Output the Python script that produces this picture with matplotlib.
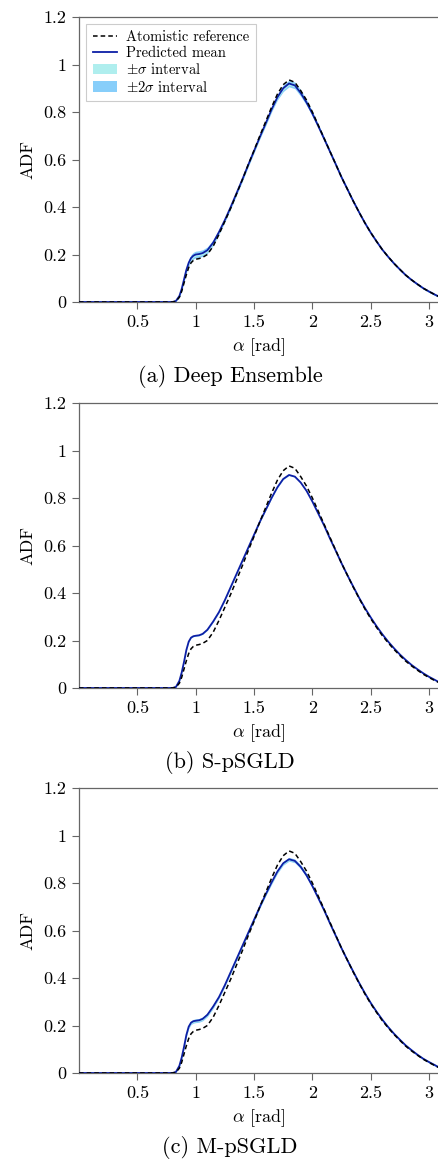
import numpy as np
import matplotlib
matplotlib.use("Agg")
import matplotlib.pyplot as plt

plt.rcParams['font.family'] = 'serif'
plt.rcParams['font.serif'] = ['cmr10']
plt.rcParams['mathtext.fontset'] = 'cm'
plt.rcParams['axes.unicode_minus'] = False
plt.rcParams['axes.formatter.use_mathtext'] = True

# angle grid [rad]
alpha = [0.00, 0.80, 0.83, 0.86, 0.88, 0.90, 0.92, 0.94, 0.96, 0.98,
         1.00, 1.03, 1.06, 1.10, 1.15, 1.20, 1.25, 1.30, 1.35, 1.40,
         1.45, 1.50, 1.55, 1.60, 1.65, 1.70, 1.75, 1.80, 1.85, 1.90,
         1.95, 2.00, 2.05, 2.10, 2.15, 2.20, 2.25, 2.30, 2.35, 2.40,
         2.45, 2.50, 2.55, 2.60, 2.65, 2.70, 2.75, 2.80, 2.85, 2.90,
         2.95, 3.00, 3.05, 3.08]

# atomistic reference ADF
reference = [0, 0, 0.003, 0.02, 0.045, 0.08, 0.115, 0.145, 0.165, 0.175,
             0.18, 0.183, 0.188, 0.20, 0.235, 0.285, 0.34, 0.395, 0.455, 0.515,
             0.578, 0.638, 0.70, 0.76, 0.82, 0.875, 0.915, 0.935, 0.925, 0.89,
             0.85, 0.80, 0.745, 0.69, 0.635, 0.58, 0.525, 0.475, 0.425, 0.378,
             0.333, 0.292, 0.255, 0.22, 0.19, 0.162, 0.137, 0.113, 0.093, 0.075,
             0.058, 0.044, 0.031, 0.024]

# (a) Deep Ensemble
de_mean = [0, 0, 0.004, 0.025, 0.055, 0.095, 0.135, 0.165, 0.185, 0.195,
           0.20, 0.202, 0.206, 0.218, 0.25, 0.295, 0.345, 0.40, 0.458, 0.516,
           0.577, 0.636, 0.695, 0.752, 0.81, 0.862, 0.90, 0.92, 0.912, 0.88,
           0.84, 0.793, 0.741, 0.688, 0.634, 0.58, 0.525, 0.475, 0.425, 0.378,
           0.333, 0.292, 0.255, 0.22, 0.19, 0.162, 0.137, 0.113, 0.093, 0.075,
           0.058, 0.044, 0.031, 0.024]
de_std = [0, 0, 0.001, 0.003, 0.004, 0.005, 0.006, 0.007, 0.007, 0.007,
          0.007, 0.007, 0.007, 0.007, 0.006, 0.005, 0.004, 0.004, 0.004, 0.004,
          0.004, 0.004, 0.004, 0.005, 0.005, 0.006, 0.007, 0.007, 0.007, 0.007,
          0.006, 0.005, 0.004, 0.004, 0.003, 0.003, 0.003, 0.003, 0.002, 0.002,
          0.002, 0.002, 0.002, 0.002, 0.002, 0.002, 0.002, 0.002, 0.002, 0.002,
          0.002, 0.002, 0.002, 0.002]

# (b) S-pSGLD
s_mean = [0, 0, 0.004, 0.03, 0.065, 0.11, 0.16, 0.195, 0.212, 0.218,
          0.22, 0.222, 0.228, 0.245, 0.28, 0.32, 0.37, 0.425, 0.48, 0.535,
          0.59, 0.645, 0.70, 0.75, 0.80, 0.845, 0.88, 0.897, 0.89, 0.865,
          0.83, 0.785, 0.735, 0.685, 0.63, 0.578, 0.525, 0.475, 0.427, 0.38,
          0.337, 0.297, 0.26, 0.226, 0.195, 0.167, 0.141, 0.118, 0.097, 0.079,
          0.062, 0.047, 0.034, 0.026]
s_std = [0, 0, 0.001, 0.001, 0.001, 0.001, 0.001, 0.001, 0.001, 0.001,
         0.001, 0.001, 0.001, 0.001, 0.001, 0.001, 0.001, 0.001, 0.001, 0.001,
         0.001, 0.001, 0.001, 0.001, 0.001, 0.001, 0.001, 0.001, 0.001, 0.001,
         0.001, 0.001, 0.001, 0.001, 0.001, 0.001, 0.001, 0.001, 0.001, 0.001,
         0.001, 0.001, 0.001, 0.001, 0.001, 0.001, 0.001, 0.001, 0.001, 0.001,
         0.001, 0.001, 0.001, 0.001]

# (c) M-pSGLD
m_mean = [0, 0, 0.004, 0.03, 0.065, 0.11, 0.16, 0.195, 0.212, 0.218,
          0.22, 0.222, 0.228, 0.245, 0.28, 0.32, 0.37, 0.425, 0.48, 0.535,
          0.59, 0.645, 0.70, 0.752, 0.802, 0.848, 0.883, 0.90, 0.893, 0.868,
          0.832, 0.787, 0.737, 0.686, 0.631, 0.578, 0.525, 0.475, 0.427, 0.38,
          0.336, 0.295, 0.258, 0.224, 0.193, 0.165, 0.14, 0.116, 0.096, 0.077,
          0.06, 0.046, 0.033, 0.025]
m_std = [0, 0, 0.001, 0.002, 0.003, 0.004, 0.004, 0.004, 0.004, 0.004,
         0.004, 0.004, 0.004, 0.004, 0.004, 0.003, 0.003, 0.003, 0.003, 0.003,
         0.003, 0.003, 0.003, 0.003, 0.004, 0.004, 0.004, 0.004, 0.004, 0.004,
         0.004, 0.003, 0.003, 0.003, 0.002, 0.002, 0.002, 0.002, 0.002, 0.002,
         0.002, 0.002, 0.002, 0.002, 0.002, 0.002, 0.002, 0.002, 0.002, 0.002,
         0.002, 0.002, 0.002, 0.002]

captions = ["(a) Deep Ensemble", "(b) S-pSGLD", "(c) M-pSGLD"]
xticks = [0.5, 1, 1.5, 2, 2.5, 3]
xticklabels = ["0.5", "1", "1.5", "2", "2.5", "3"]
yticks = [0, 0.2, 0.4, 0.6, 0.8, 1, 1.2]
yticklabels = ["0", "0.2", "0.4", "0.6", "0.8", "1", "1.2"]

W, H = 439, 1159
fig = plt.figure(figsize=(W / 100, H / 100), dpi=100)

ax_left = 79
ax_h = 285
tops = [17, 403, 788]
spine_col = '#666666'

panels = [(de_mean, de_std), (s_mean, s_std), (m_mean, m_std)]
x = np.array(alpha)
ref = np.array(reference)

for i, (mean, std) in enumerate(panels):
    top = tops[i]
    ax = fig.add_axes([ax_left / W, 1 - (top + ax_h) / H, (W - ax_left) / W, ax_h / H])
    mu = np.array(mean)
    sd = np.array(std)

    ax.fill_between(x, mu - 2 * sd, mu + 2 * sd, color='#87cefa', lw=0,
                    label=r'$\pm2\sigma$ interval', zorder=1)
    ax.fill_between(x, mu - sd, mu + sd, color='#afeeee', lw=0,
                    label=r'$\pm\sigma$ interval', zorder=2)
    ax.plot(x, ref, color='black', lw=1.1, dashes=(3, 2),
            label='Atomistic reference', zorder=4)
    ax.plot(x, mu, color='#0c1fa6', lw=1.3, label='Predicted mean', zorder=3)

    ax.set_xlim(0, 3.085)
    ax.set_ylim(0, 1.2)
    ax.set_xticks(xticks)
    ax.set_xticklabels(xticklabels)
    ax.set_yticks(yticks)
    ax.set_yticklabels(yticklabels)
    ax.tick_params(axis='both', direction='out', length=5, width=0.8,
                   color=spine_col, labelsize=13, pad=4)
    for side in ['left', 'bottom', 'top']:
        ax.spines[side].set_color(spine_col)
        ax.spines[side].set_linewidth(0.9)
    ax.spines['right'].set_visible(False)

    ax.set_xlabel(r'$\alpha$ [rad]', fontsize=13, labelpad=5)
    ax.set_ylabel('ADF', fontsize=13, labelpad=6)

    # subfigure caption below each panel
    fig.text(230 / W, 1 - (top + ax_h + 80) / H, captions[i],
             ha='center', va='baseline', fontsize=16)

    if i == 0:
        h, l = ax.get_legend_handles_labels()
        order = [2, 3, 1, 0]
        leg = ax.legend([h[k] for k in order], [l[k] for k in order],
                        loc='upper left', bbox_to_anchor=(7 / 360, 1 - 7 / ax_h),
                        borderaxespad=0, fontsize=10.5, frameon=True,
                        fancybox=False, framealpha=1, edgecolor='#cccccc',
                        handlelength=1.7, handletextpad=0.6, labelspacing=0.15,
                        borderpad=0.45)
        leg.get_frame().set_linewidth(0.8)

fig.savefig('out.png', dpi=100)
